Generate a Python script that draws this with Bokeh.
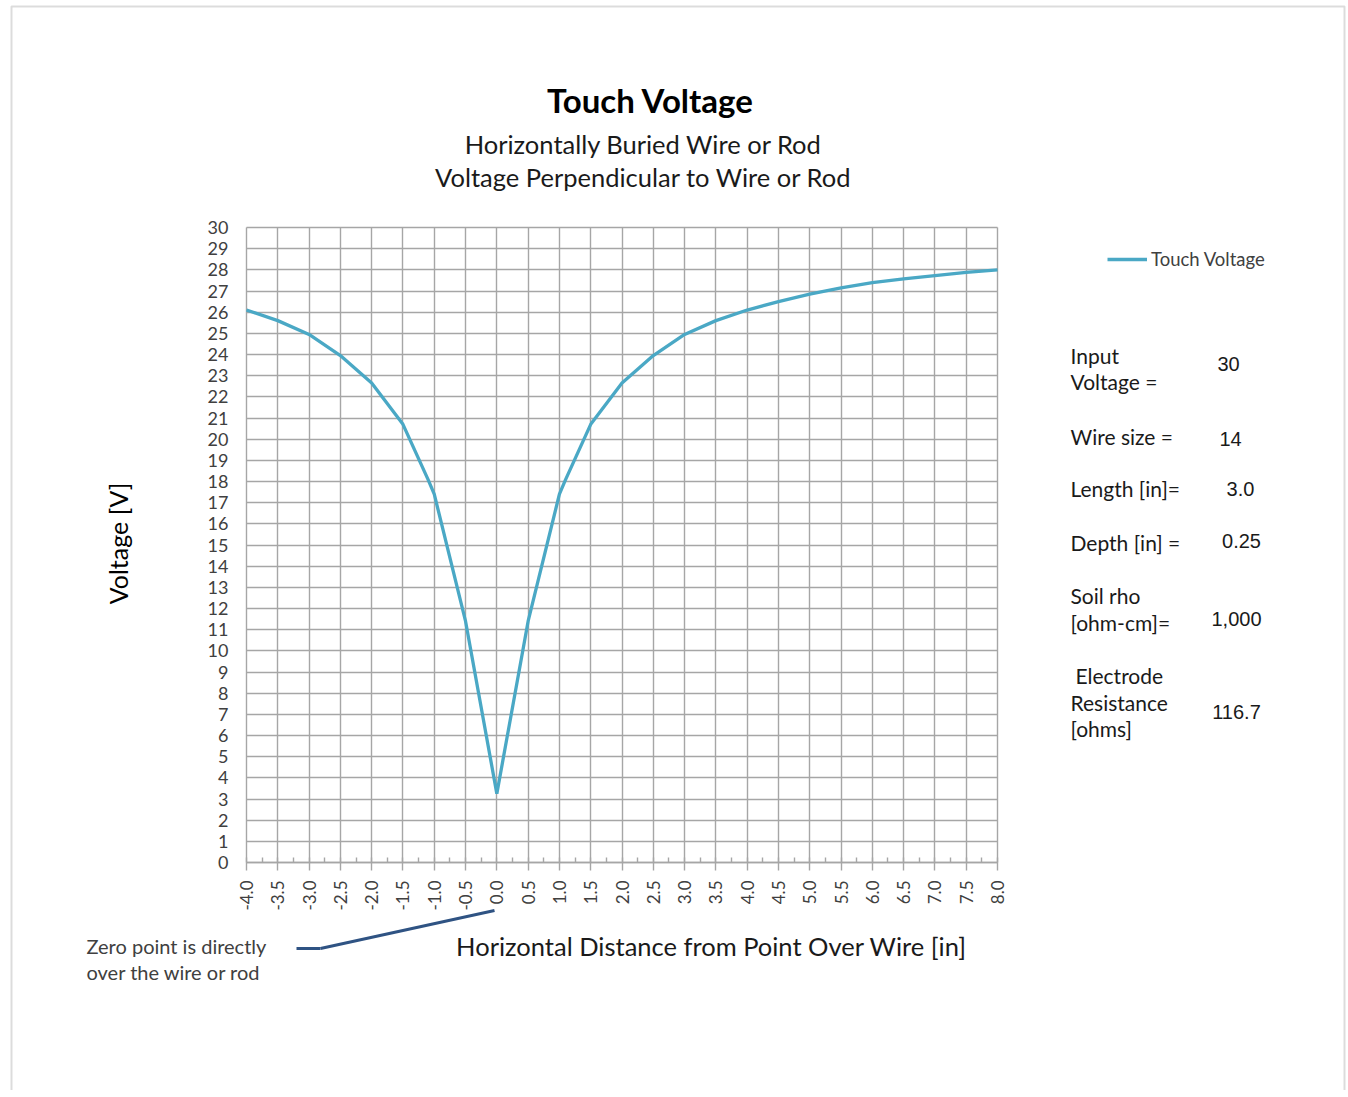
import math
from bokeh.plotting import figure
from bokeh.models import (Range1d, FixedTicker, Label, Arrow, Legend, LegendItem,
                          LinearAxis, Grid, BoxAnnotation)
from bokeh.embed import file_html
from bokeh.resources import INLINE

# ---------------- data ----------------
distance = [-4.0, -3.5, -3.0, -2.5, -2.0, -1.5, -1.1, -1.0, -0.5, 0.0, 0.5, 1.0, 1.1,
            1.5, 2.0, 2.5, 3.0, 3.5, 4.0, 4.5, 5.0, 5.5, 6.0, 6.5, 7.0, 7.5, 8.0]
voltage = [26.1, 25.6, 24.95, 23.95, 22.65, 20.7, 18.1, 17.4, 11.4, 3.25, 11.4, 17.4, 18.1,
           20.7, 22.65, 23.95, 24.95, 25.6, 26.1, 26.5, 26.85, 27.15, 27.4, 27.57, 27.73, 27.88, 28.0]
x_ticks = [-4.0 + 0.5 * i for i in range(25)]
x_tick_labels = ["%.1f" % t for t in x_ticks]
x_minor = [-4.0 + 0.25 * i for i in range(49)]
y_ticks = list(range(0, 31))
series_name = "Touch Voltage"
title_text = "Touch Voltage"
subtitle_lines = ["Horizontally Buried Wire or Rod", "Voltage Perpendicular to Wire or Rod"]
y_label = "Voltage [V]"
x_label = "Horizontal Distance from Point Over Wire [in]"
note_lines = ["Zero point is directly", "over the wire or rod"]
param_labels = [["Input", "Voltage ="], ["Wire size ="], ["Length [in]="], ["Depth [in] ="],
                ["Soil rho", "[ohm-cm]="], ["Electrode", "Resistance", "[ohms]"]]
param_values = ["30", "14", "3.0", "0.25", "1,000", "116.7"]

XMIN, XMAX, YMIN, YMAX = -4.0, 8.0, 0.0, 30.0
# chart area position on the page (pixels)
FL, FR, FT, FB = 246, 997, 227, 862
W, H = 1346, 1090

SX = (XMAX - XMIN) / (FR - FL)
SY = (YMAX - YMIN) / (FB - FT)


def dx(px):
    return XMIN + (px - FL) * SX


def dy(py):
    return YMIN + (FB - py) * SY


FONT = "Lato"
TXT = "#404040"
DARK = "#1a1a1a"
LINE_COLOR = "#4aa8c5"
GRID = "#a6a6a6"

# the plot frame covers the whole canvas, so that texts around the chart are not clipped
p = figure(width=W, height=H, output_backend="svg", toolbar_location=None,
           x_range=Range1d(dx(0), dx(W)), y_range=Range1d(dy(H), dy(0)),
           x_axis_location=None, y_axis_location=None,
           min_border=0, min_border_left=0, min_border_right=0,
           min_border_top=0, min_border_bottom=0)
p.title.visible = False
p.background_fill_color = "white"
p.border_fill_color = "white"
p.outline_line_color = None
# drop default grids
p.center = [c for c in p.center if not isinstance(c, Grid)]

# page border
p.add_layout(BoxAnnotation(left=dx(11), right=dx(1344), top=dy(6), bottom=dy(1200),
                           fill_alpha=0, line_color="#8a8a8a", line_width=2, level="underlay"))

# grid (limited to the chart area)
xgrid = Grid(dimension=0, ticker=FixedTicker(ticks=x_ticks), bounds=(XMIN, XMAX),
             grid_line_color=GRID, grid_line_width=1.4, level="underlay")
ygrid = Grid(dimension=1, ticker=FixedTicker(ticks=y_ticks), bounds=(YMIN, YMAX),
             grid_line_color=GRID, grid_line_width=1.4, level="underlay")
xgrid.cross_bounds = (YMIN, YMAX)
ygrid.cross_bounds = (XMIN, XMAX)
p.add_layout(xgrid)
p.add_layout(ygrid)

# axes, fixed at the chart area's edges
xaxis = LinearAxis(fixed_location=YMIN, bounds=(XMIN, XMAX),
                   ticker=FixedTicker(ticks=x_ticks, minor_ticks=x_minor))
xaxis.major_label_overrides = {t: l for t, l in zip(x_ticks, x_tick_labels)}
xaxis.major_label_orientation = math.pi / 2
xaxis.major_label_text_font = FONT
xaxis.major_label_text_font_size = "17px"
xaxis.major_label_text_color = TXT
xaxis.major_label_standoff = 10
xaxis.axis_line_color = GRID
xaxis.axis_line_width = 1.4
xaxis.major_tick_line_color = GRID
xaxis.major_tick_line_width = 1.4
xaxis.major_tick_in = 0
xaxis.major_tick_out = 8
xaxis.minor_tick_line_color = GRID
xaxis.minor_tick_line_width = 1.4
xaxis.minor_tick_in = 5
xaxis.minor_tick_out = 0
p.add_layout(xaxis, "below")

yaxis = LinearAxis(fixed_location=XMIN, bounds=(YMIN, YMAX), ticker=FixedTicker(ticks=y_ticks))
yaxis.major_label_text_font = FONT
yaxis.major_label_text_font_size = "18px"
yaxis.major_label_text_color = TXT
yaxis.major_label_standoff = 12
yaxis.axis_line_color = None
yaxis.major_tick_line_color = None
yaxis.minor_tick_line_color = None
p.add_layout(yaxis, "left")

r = p.line(distance, voltage, line_color=LINE_COLOR, line_width=3.3)


def lab(px, py, text, size, align="left", color=TXT, bold=False, angle=0.0, font=FONT):
    p.add_layout(Label(x=dx(px), y=dy(py), text=text, text_align=align, text_baseline="middle",
                       text_font_size=size, text_color=color, angle=angle,
                       text_font=font, text_font_style="bold" if bold else "normal"))


# titles
lab(650, 99, title_text, "33px", "center", "black", bold=True)
lab(643, 143, subtitle_lines[0], "25.5px", "center", DARK)
lab(643, 176, subtitle_lines[1], "25.5px", "center", DARK)

# axis titles
lab(117, 543, y_label, "25px", "center", "black", angle=math.pi / 2)
lab(711, 945, x_label, "25.5px", "center", DARK)

# note + leader
lab(86, 945, note_lines[0], "20px", "left", TXT)
lab(86, 971, note_lines[1], "20px", "left", TXT)
p.add_layout(Arrow(end=None, x_start=dx(296), y_start=dy(948), x_end=dx(320), y_end=dy(948),
                   line_color="#2f5383", line_width=3))
p.add_layout(Arrow(end=None, x_start=dx(320), y_start=dy(948), x_end=dx(494), y_end=dy(910),
                   line_color="#2f5383", line_width=3))

# parameters
label_rows = [[355, 381], [436], [488], [542], [595, 622], [675, 702, 728]]
label_x = [[1070, 1070], [1070], [1070], [1070], [1070, 1070], [1075, 1070, 1070]]
value_rows = [(1228, 363), (1230, 438), (1240, 488), (1241, 540), (1236, 618), (1236, 711)]
for lines, ys, xs, v, (vx, vy) in zip(param_labels, label_rows, label_x, param_values, value_rows):
    for t, yy, xx in zip(lines, ys, xs):
        lab(xx, yy, t, "21px", "left", DARK)
    lab(vx, vy, v, "20px", "center", DARK, font="Liberation Sans")

# legend (location = bottom-left corner in pixels from the frame's bottom-left)
legend = Legend(items=[LegendItem(label=series_name, renderers=[r])],
                location=(1107, H - 270), orientation="vertical",
                border_line_color=None, background_fill_alpha=0,
                padding=0, margin=0, spacing=0, glyph_width=40, glyph_height=20,
                label_standoff=4, label_text_font=FONT, label_text_font_size="18.5px",
                label_text_color=TXT)
p.add_layout(legend)

open("out.html", "w").write(file_html(p, INLINE))
